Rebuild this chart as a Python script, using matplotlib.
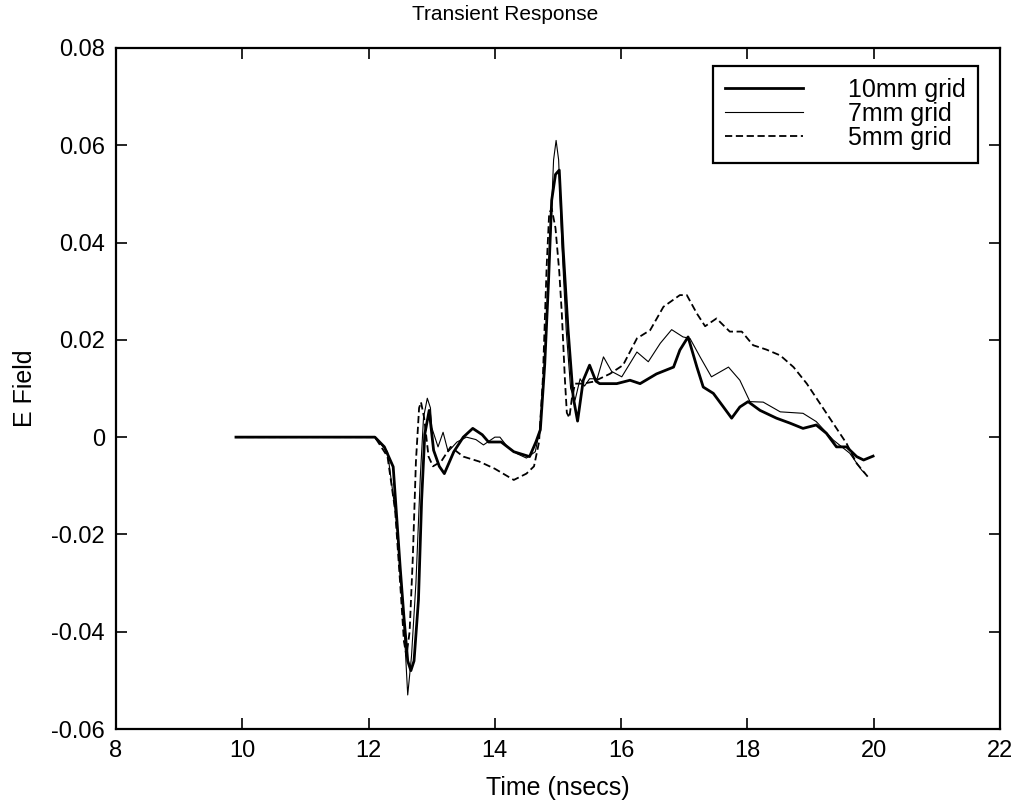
import numpy as np
import matplotlib
matplotlib.use("Agg")
import matplotlib.pyplot as plt

plt.rcParams["font.family"] = ["Liberation Sans", "DejaVu Sans"]

# 10mm grid (thick solid)
t10 = [9.9, 12.1, 12.25, 12.39, 12.5, 12.56, 12.62, 12.67, 12.72, 12.79, 12.84, 12.89,
       12.96, 13.03, 13.12, 13.2, 13.35, 13.5, 13.65, 13.8, 13.9, 14.1, 14.3, 14.55,
       14.65, 14.72, 14.79, 14.85, 14.9, 14.96, 15.02, 15.08, 15.16, 15.24, 15.31,
       15.4, 15.5, 15.6, 15.66, 15.93, 16.14, 16.3, 16.56, 16.83, 16.93, 17.06, 17.2,
       17.3, 17.46, 17.62, 17.75, 17.88, 18.01, 18.2, 18.46, 18.67, 18.88, 19.09,
       19.25, 19.41, 19.57, 19.73, 19.84, 19.99]
e10 = [0, 0, -0.002, -0.0061, -0.0267, -0.037, -0.046, -0.048, -0.046, -0.0335, -0.013, 0.0006,
       0.0055, -0.0027, -0.006, -0.0075, -0.003, 0.0, 0.0018, 0.0005, -0.001, -0.001, -0.003, -0.004,
       -0.001, 0.0015, 0.015, 0.032, 0.0487, 0.054, 0.0549, 0.039, 0.022, 0.0083, 0.0033,
       0.0117, 0.0148, 0.0115, 0.011, 0.011, 0.0117, 0.011, 0.013, 0.0144, 0.0179, 0.0206, 0.0144,
       0.0103, 0.009, 0.0062, 0.0039, 0.0062, 0.0073, 0.0055, 0.0039, 0.0029, 0.0018, 0.0025,
       0.0008, -0.002, -0.002, -0.004, -0.0047, -0.0039]

# 7mm grid (thin solid)
t7 = [9.9, 12.1, 12.3, 12.45, 12.55, 12.62, 12.68, 12.75, 12.82, 12.87, 12.93, 12.98,
      13.0, 13.1, 13.18, 13.26, 13.4, 13.55, 13.7, 13.82, 14.0, 14.08, 14.2, 14.35, 14.5,
      14.64, 14.72, 14.8, 14.87, 14.93, 14.97, 15.01, 15.06, 15.13, 15.2, 15.27, 15.35,
      15.42, 15.5, 15.62, 15.72, 15.85, 16.01, 16.25, 16.43, 16.62, 16.8, 16.98, 17.09,
      17.25, 17.43, 17.7, 17.88, 18.04, 18.25, 18.52, 18.88, 19.09, 19.36, 19.62, 19.81, 19.86]
e7 = [0, 0, -0.003, -0.018, -0.036, -0.053, -0.045, -0.03, -0.008, 0.004, 0.008, 0.006,
      0.002, -0.002, 0.001, -0.003, -0.001, 0.0, -0.0005, -0.0016, 0.0, 0.0, -0.002, -0.0034, -0.0043,
      -0.003, 0.002, 0.018, 0.038, 0.057, 0.061, 0.057, 0.04, 0.022, 0.01, 0.0076, 0.012,
      0.0105, 0.012, 0.012, 0.0165, 0.0135, 0.0124, 0.0175, 0.0155, 0.0193, 0.0221, 0.0206, 0.0203,
      0.0165, 0.0124, 0.0144, 0.0117, 0.0073, 0.0072, 0.0052, 0.0049, 0.0032, -0.0006, -0.0033, -0.0068, -0.0074]

# 5mm grid (dashed)
t5 = [9.9, 12.1, 12.3, 12.42, 12.5, 12.56, 12.6, 12.65, 12.7, 12.75, 12.8, 12.83, 12.88,
      12.95, 13.02, 13.15, 13.3, 13.5, 13.75, 14.0, 14.3, 14.5, 14.62, 14.7, 14.76, 14.82,
      14.86, 14.9, 14.96, 15.02, 15.06, 15.11, 15.14, 15.18, 15.22, 15.27, 15.4, 15.56,
      15.82, 16.03, 16.25, 16.46, 16.67, 16.93, 17.04, 17.2, 17.33, 17.51, 17.72, 17.91,
      18.09, 18.3, 18.52, 18.73, 18.94, 19.15, 19.36, 19.57, 19.73, 19.91, 19.95]
e5 = [0, 0, -0.004, -0.015, -0.03, -0.042, -0.045, -0.04, -0.025, -0.005, 0.006, 0.0072, 0.004,
      -0.004, -0.006, -0.005, -0.002, -0.004, -0.005, -0.0065, -0.0088, -0.0075, -0.006, -0.001, 0.012, 0.035,
      0.046, 0.047, 0.043, 0.034, 0.0255, 0.0117, 0.005, 0.004, 0.008, 0.011, 0.011, 0.0114,
      0.013, 0.0148, 0.0203, 0.022, 0.0268, 0.0292, 0.0292, 0.0254, 0.0228, 0.0244, 0.0217, 0.0217,
      0.0189, 0.018, 0.0168, 0.0144, 0.011, 0.0069, 0.0028, -0.0013, -0.0054, -0.0082, -0.0085]

yticks = [-0.06, -0.04, -0.02, 0, 0.02, 0.04, 0.06, 0.08]
ylabels = ["-0.06", "-0.04", "-0.02", "0", "0.02", "0.04", "0.06", "0.08"]

fig = plt.figure(figsize=(10.18, 8.02), dpi=100)
ax = fig.add_axes([116 / 1018, 1 - 729 / 802, 884 / 1018, 681 / 802])

ax.plot(t10, e10, color="black", lw=2.0, label="10mm grid")
ax.plot(t7, e7, color="black", lw=0.8, label="7mm grid")
ax.plot(t5, e5, color="black", lw=1.3, dashes=(4, 2), label="5mm grid")

ax.set_xlim(8, 22)
ax.set_ylim(-0.06, 0.08)
ax.set_xticks(np.arange(8, 23, 2))
ax.set_yticks(yticks)
ax.set_yticklabels(ylabels)
ax.tick_params(direction="in", top=True, right=True, length=8, width=1.2,
               labelsize=17, pad=8)
for s in ax.spines.values():
    s.set_linewidth(1.6)

ax.set_title("Transient Response", fontsize=15, pad=20, x=0.44)
ax.set_xlabel("Time (nsecs)", fontsize=18, labelpad=10)
ax.set_ylabel("E Field", fontsize=18, labelpad=10)

leg = ax.legend(loc="upper right", bbox_to_anchor=(0.975, 0.974), borderaxespad=0,
                fontsize=18, handlelength=3.1, handletextpad=1.8, labelspacing=0.0,
                borderpad=0.5, fancybox=False, edgecolor="black", framealpha=1)
leg.get_frame().set_linewidth(1.6)

fig.savefig("out.png", dpi=100)
